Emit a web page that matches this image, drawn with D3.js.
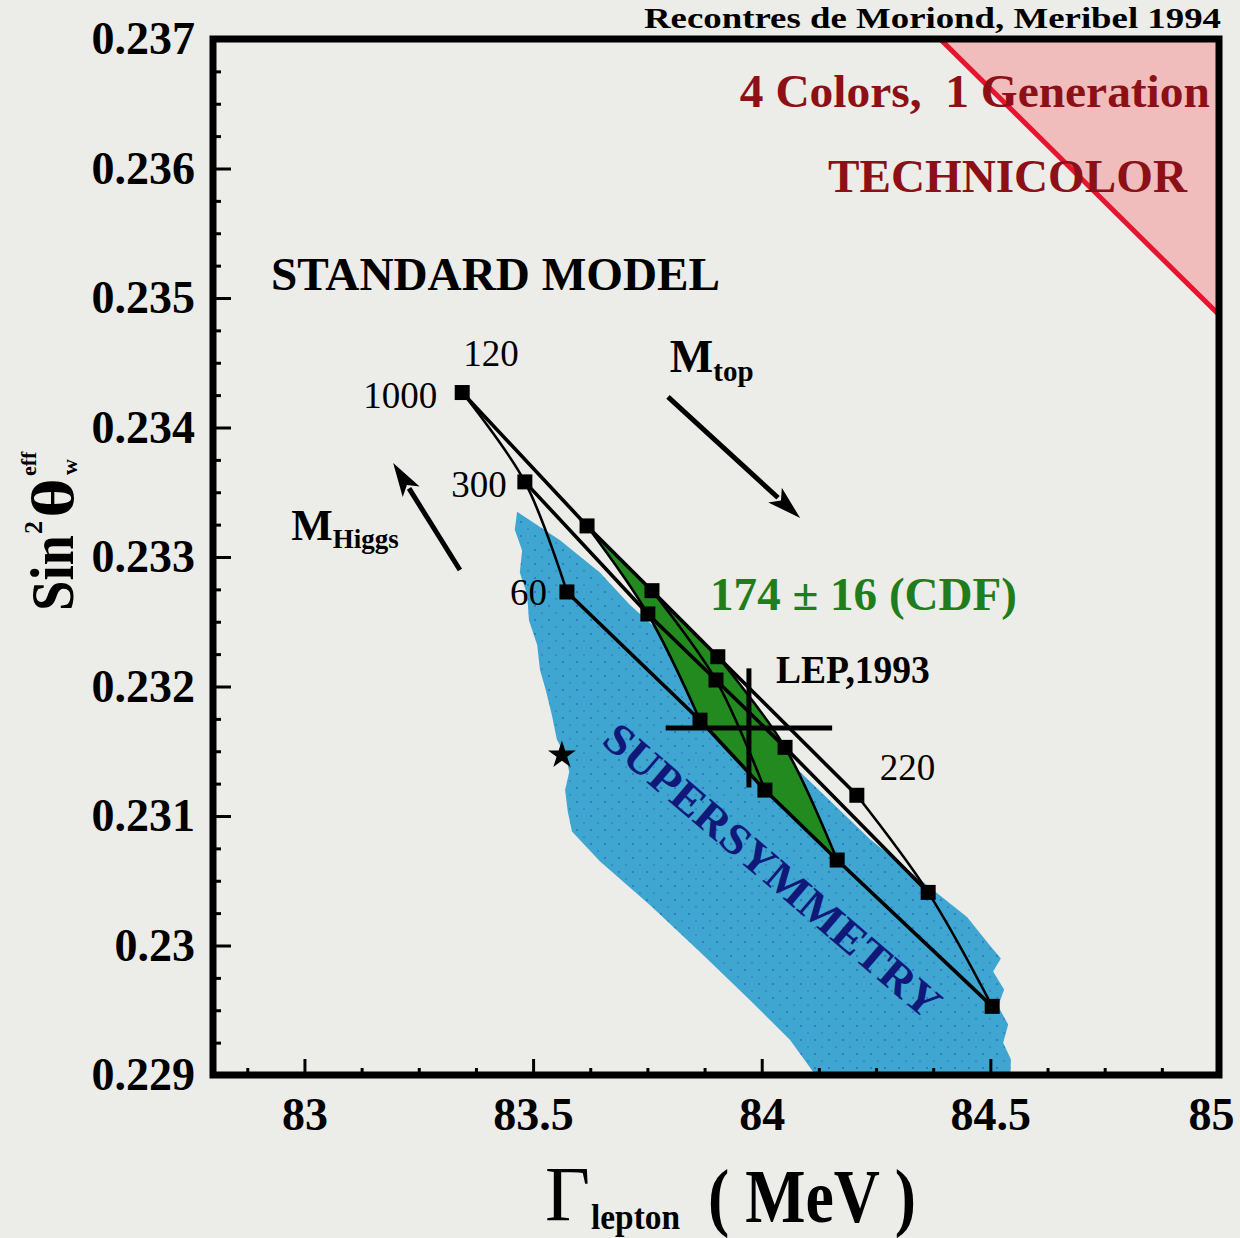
<!DOCTYPE html>
<html>
<head>
<meta charset="utf-8">
<script src="https://cdn.jsdelivr.net/npm/d3@7"></script>
<style>
  html, body { margin: 0; padding: 0; background: #ecece9; }
  svg { display: block; }
</style>
</head>
<body>
<svg id="chart" width="1240" height="1238"></svg>
<script>
// ---------------- data ----------------
// Standard Model grid: top mass (GeV) x Higgs mass (GeV)
const mtopValues   = [120, 158, 174, 190, 220];
const mhiggsValues = [60, 300, 1000];

// Γ_lepton (MeV) and sin²θ_eff along each fixed-Higgs-mass line, one entry per top mass
const gammaMH60   = [83.574, 83.865, 84.007, 84.165, 84.504];
const sin2MH60    = [0.23273, 0.23174, 0.23120, 0.23066, 0.22953];
const gammaMH300  = [83.482, 83.751, 83.900, 84.051, 84.364];
const sin2MH300   = [0.23358, 0.23256, 0.23205, 0.23153, 0.23041];
const gammaMH1000 = [83.345, 83.618, 83.760, 83.904, 84.208];
const sin2MH1000  = [0.23427, 0.23324, 0.23274, 0.23223, 0.23116];

// CDF top mass band, 174 ± 16 GeV
const cdfMtopRange = [158, 190];

// LEP 1993 measurement
const lepGamma = 83.972, lepGammaErr = 0.182;
const lepSin2  = 0.23168, lepSin2Err = 0.00046;

// single starred point
const starPoint = [83.563, 0.23147];

// supersymmetry band outline [Γ, sin²θ]
const susyOutline = [
  [83.465, 0.23335], [83.559, 0.23313], [83.646, 0.23288], [83.712, 0.23263],
  [83.778, 0.23242], [83.909, 0.23197], [84.084, 0.23134], [84.237, 0.23082],
  [84.346, 0.23051], [84.449, 0.23022], [84.499, 0.23000], [84.523, 0.22990],
  [84.506, 0.22980], [84.530, 0.22966], [84.517, 0.22953], [84.539, 0.22939],
  [84.528, 0.22925], [84.545, 0.22912], [84.543, 0.22890], [84.138, 0.22890],
  [84.062, 0.22927], [83.974, 0.22958], [83.865, 0.22995], [83.756, 0.23031],
  [83.646, 0.23065], [83.585, 0.23088], [83.576, 0.23103], [83.570, 0.23120],
  [83.579, 0.23134], [83.572, 0.23146], [83.552, 0.23159], [83.541, 0.23178],
  [83.528, 0.23197], [83.515, 0.23213], [83.509, 0.23232], [83.491, 0.23251],
  [83.487, 0.23271], [83.471, 0.23288], [83.476, 0.23305], [83.460, 0.23321]
];

// technicolor (4 colours, 1 generation) excluded corner
const technicolorOutline = [[84.39, 0.237], [85.0, 0.237], [85.0, 0.23487]];

// arrows showing the direction of increasing mass [from, to]
const mtopArrow   = [[83.795, 0.234236], [84.084, 0.233301]];
const mhiggsArrow = [[83.340, 0.232900], [83.194, 0.233726]];

// axes
const xDomain = [82.8, 85.0];
const yDomain = [0.229, 0.237];
const xTickValues = [83, 83.5, 84, 84.5, 85];
const xTickLabels = ["83", "83.5", "84", "84.5", "85"];
const yTickValues = [0.229, 0.230, 0.231, 0.232, 0.233, 0.234, 0.235, 0.236, 0.237];
const yTickLabels = ["0.229", "0.23", "0.231", "0.232", "0.233", "0.234", "0.235", "0.236", "0.237"];

// ---------------- drawing ----------------
const SERIF = "'Liberation Serif', 'Times New Roman', serif";
const svg = d3.select("#chart");
const plot = { left: 213, right: 1219, top: 39, bottom: 1075 };

const x = d3.scaleLinear().domain(xDomain).range([plot.left, plot.right]);
const y = d3.scaleLinear().domain(yDomain).range([plot.bottom, plot.top]);

svg.append("rect").attr("width", 1240).attr("height", 1238).attr("fill", "#ecece9");

const defs = svg.append("defs");
defs.append("clipPath").attr("id", "plotClip")
  .append("rect")
  .attr("x", plot.left).attr("y", plot.top)
  .attr("width", plot.right - plot.left).attr("height", plot.bottom - plot.top);

// speckle texture for the supersymmetry band
const pat = defs.append("pattern").attr("id", "susyTex")
  .attr("patternUnits", "userSpaceOnUse").attr("width", 14).attr("height", 14);
pat.append("rect").attr("width", 14).attr("height", 14).attr("fill", "#3fa6d1");
pat.append("rect").attr("x", 2).attr("y", 3).attr("width", 2).attr("height", 2).attr("fill", "#2f7cc4");
pat.append("rect").attr("x", 9).attr("y", 10).attr("width", 2).attr("height", 2).attr("fill", "#368bca");

const area = svg.append("g").attr("clip-path", "url(#plotClip)");
const toPx = d => [x(d[0]), y(d[1])];
const poly = d3.line().x(d => x(d[0])).y(d => y(d[1]));

// technicolor corner
area.append("path")
  .attr("d", poly(technicolorOutline) + "Z")
  .attr("fill", "#f0bcbc");
area.append("path")
  .attr("d", poly([technicolorOutline[0], technicolorOutline[2]]))
  .attr("stroke", "#e5142f").attr("stroke-width", 5).attr("fill", "none");

// supersymmetry band
area.append("path")
  .attr("d", poly(susyOutline) + "Z")
  .attr("fill", "url(#susyTex)");

// Standard Model grid
const mhSeries = [
  { mh: 60,   g: gammaMH60,   s: sin2MH60 },
  { mh: 300,  g: gammaMH300,  s: sin2MH300 },
  { mh: 1000, g: gammaMH1000, s: sin2MH1000 }
];
const mtopCurve = d3.line().x(d => x(d[0])).y(d => y(d[1])).curve(d3.curveCatmullRom.alpha(0.5));
const mtopPoints = i => mhSeries.map(h => [h.g[i], h.s[i]]);          // MH 60 -> 1000
const mhPoints = (h, i0, i1) => d3.range(i0, i1 + 1).map(i => [h.g[i], h.s[i]]);

// CDF band, bounded by the Mtop = 158 and 190 curves
const i0 = mtopValues.indexOf(cdfMtopRange[0]);
const i1 = mtopValues.indexOf(cdfMtopRange[1]);
const h60 = mhSeries[0], h1000 = mhSeries[2];
const band =
  poly(mhPoints(h1000, i0, i1)) +
  mtopCurve(mtopPoints(i1).slice().reverse()).replace(/^M/, "L") +
  poly(mhPoints(h60, i0, i1).reverse()).replace(/^M/, "L") +
  mtopCurve(mtopPoints(i0)).replace(/^M/, "L") + "Z";
area.append("path").attr("d", band).attr("fill", "#228a1f");

// constant top-mass curves
mtopValues.forEach((mt, i) => {
  area.append("path")
    .attr("d", mtopCurve(mtopPoints(i)))
    .attr("fill", "none").attr("stroke", "#000").attr("stroke-width", 2.6);
});
// constant Higgs-mass lines
mhSeries.forEach(h => {
  area.append("path")
    .attr("d", poly(mhPoints(h, 0, mtopValues.length - 1)))
    .attr("fill", "none").attr("stroke", "#000").attr("stroke-width", 3.6);
});
// grid nodes
const nodes = [];
mhSeries.forEach(h => mtopValues.forEach((mt, i) => nodes.push({ mt, mh: h.mh, g: h.g[i], s: h.s[i] })));
area.selectAll("rect.node").data(nodes).join("rect")
  .attr("class", "node")
  .attr("x", d => x(d.g) - 7.5).attr("y", d => y(d.s) - 7.5)
  .attr("width", 15).attr("height", 15).attr("fill", "#000");

// LEP 1993 cross
const lep = area.append("g").attr("stroke", "#000").attr("stroke-width", 5);
lep.append("line")
  .attr("x1", x(lepGamma - lepGammaErr)).attr("x2", x(lepGamma + lepGammaErr))
  .attr("y1", y(lepSin2)).attr("y2", y(lepSin2));
lep.append("line")
  .attr("x1", x(lepGamma)).attr("x2", x(lepGamma))
  .attr("y1", y(lepSin2 - lepSin2Err)).attr("y2", y(lepSin2 + lepSin2Err));

// star
area.append("path")
  .attr("transform", `translate(${x(starPoint[0])},${y(starPoint[1])})`)
  .attr("d", d3.symbol().type(d3.symbolStar).size(240)())
  .attr("fill", "#000");

// arrows
function arrow(pair) {
  const [p0, p1] = pair.map(toPx);
  const dx = p1[0] - p0[0], dy = p1[1] - p0[1];
  const len = Math.hypot(dx, dy), ux = dx / len, uy = dy / len;
  const headL = 34, headW = 10;
  const bx = p1[0] - ux * headL, by = p1[1] - uy * headL;
  area.append("line")
    .attr("x1", p0[0]).attr("y1", p0[1]).attr("x2", bx + ux * 4).attr("y2", by + uy * 4)
    .attr("stroke", "#000").attr("stroke-width", 5);
  area.append("path")
    .attr("d", `M${p1[0]},${p1[1]}L${bx - uy * headW},${by + ux * headW}L${bx + ux * 8},${by + uy * 8}L${bx + uy * headW},${by - ux * headW}Z`)
    .attr("fill", "#000");
}
arrow(mtopArrow);
arrow(mhiggsArrow);

// ---------------- labels ----------------
function label(g, s, txt, opts = {}) {
  const t = svg.append("text")
    .attr("x", x(g) + (opts.dx || 0)).attr("y", y(s) + (opts.dy || 0))
    .attr("font-family", SERIF)
    .attr("font-size", opts.size || 38)
    .attr("font-weight", opts.weight || "normal")
    .attr("fill", opts.color || "#000")
    .attr("text-anchor", opts.anchor || "start")
    .style("white-space", "pre")
    .text(txt);
  if (opts.len) t.attr("textLength", opts.len).attr("lengthAdjust", "spacingAndGlyphs");
  return t;
}

// grid-node labels
const node = (mt, mh) => nodes.find(n => n.mt === mt && n.mh === mh);
let n;
n = node(120, 1000); label(n.g, n.s, "120",  { dx: 1,  dy: -27, size: 37 });
n = node(120, 1000); label(n.g, n.s, "1000", { dx: -25, dy: 15, size: 37, anchor: "end" });
n = node(120, 300);  label(n.g, n.s, "300",  { dx: -18, dy: 15, size: 37, anchor: "end" });
n = node(120, 60);   label(n.g, n.s, "60",   { dx: -20, dy: 13, size: 37, anchor: "end" });
n = node(220, 1000); label(n.g, n.s, "220",  { dx: 23,  dy: -15, size: 37 });

label(82.927, 0.235062, "STANDARD MODEL", { size: 47, weight: "bold", len: 449 });
label(84.980, 0.236475, "4 Colors,  1 Generation", { size: 47, weight: "bold", color: "#8c1016", anchor: "end", len: 470 });
label(84.930, 0.235819, "TECHNICOLOR", { size: 47, weight: "bold", color: "#8c1016", anchor: "end", len: 359 });
label(83.887, 0.232591, "174 ± 16 (CDF)", { size: 46, weight: "bold", color: "#1f7d1c", len: 307 });
label(84.031, 0.232027, "LEP,1993", { size: 40, weight: "bold", len: 154 });

// M_top
const mt = label(83.799, 0.234429, "M", { size: 46, weight: "bold" });
mt.append("tspan").attr("font-size", 29).attr("dy", 9).text("top");
// M_Higgs
const mh = label(82.971, 0.233131, "M", { size: 44, weight: "bold" });
mh.append("tspan").attr("font-size", 27).attr("dy", 8).text("Higgs");

// rotated supersymmetry label
svg.append("text")
  .attr("transform", `translate(${x(84.0247)},${y(0.230583)}) rotate(40.5)`)
  .attr("font-family", SERIF).attr("font-size", 44).attr("font-weight", "bold")
  .attr("fill", "#10197a").attr("text-anchor", "middle").attr("dy", "0.35em")
  .attr("textLength", 428).attr("lengthAdjust", "spacingAndGlyphs")
  .text("SUPERSYMMETRY");

// conference tag
svg.append("text")
  .attr("x", 1221).attr("y", 28).attr("text-anchor", "end")
  .attr("font-family", SERIF).attr("font-size", 29).attr("font-weight", "bold")
  .attr("textLength", 577).attr("lengthAdjust", "spacingAndGlyphs")
  .text("Recontres de Moriond, Meribel 1994");

// ---------------- axes ----------------
const yMinor = d3.range(0.22925, 0.237, 0.00025).filter(v => Math.abs(v * 1000 - Math.round(v * 1000)) > 1e-6);
const xMinor = d3.range(82.875, 85, 0.125).filter(v => Math.abs(v * 2 - Math.round(v * 2)) > 1e-6);

function styleAxis(g) {
  g.select(".domain").remove();
  g.selectAll("line").attr("stroke", "#000").attr("stroke-width", 3);
}

svg.append("g").attr("transform", `translate(${plot.left},0)`)
  .call(d3.axisLeft(y).tickValues(yMinor).tickFormat("").tickSizeInner(-8).tickSizeOuter(0))
  .call(styleAxis);
svg.append("g").attr("transform", `translate(0,${plot.bottom})`)
  .call(d3.axisBottom(x).tickValues(xMinor).tickFormat("").tickSizeInner(-7).tickSizeOuter(0))
  .call(styleAxis);

const gy = svg.append("g").attr("transform", `translate(${plot.left},0)`)
  .call(d3.axisLeft(y).tickValues(yTickValues).tickFormat((d, i) => yTickLabels[i])
    .tickSizeInner(-18).tickSizeOuter(0).tickPadding(18))
  .call(styleAxis);
gy.attr("font-family", SERIF).attr("font-size", 46).attr("font-weight", "bold");
gy.selectAll("text").attr("fill", "#000");

const gx = svg.append("g").attr("transform", `translate(0,${plot.bottom})`)
  .call(d3.axisBottom(x).tickValues(xTickValues).tickFormat((d, i) => xTickLabels[i])
    .tickSizeInner(-16).tickSizeOuter(0).tickPadding(22))
  .call(styleAxis);
gx.attr("font-family", SERIF).attr("font-size", 46).attr("font-weight", "bold");
gx.selectAll("text").attr("fill", "#000");
// keep the last label inside the page edge
gx.selectAll(".tick").filter(d => d === xDomain[1]).select("text").attr("dx", -8);

// frame
svg.append("rect")
  .attr("x", plot.left).attr("y", plot.top)
  .attr("width", plot.right - plot.left).attr("height", plot.bottom - plot.top)
  .attr("fill", "none").attr("stroke", "#000").attr("stroke-width", 7);

// ---------------- axis titles ----------------
// x: Γ_lepton ( MeV )
svg.append("text").attr("x", 545).attr("y", 1220)
  .attr("font-family", SERIF).attr("font-size", 78).text("Γ");
svg.append("text").attr("x", 591).attr("y", 1229)
  .attr("font-family", SERIF).attr("font-size", 36).attr("font-weight", "bold")
  .attr("textLength", 89).attr("lengthAdjust", "spacingAndGlyphs").text("lepton");
svg.append("text").attr("x", 708).attr("y", 1222)
  .attr("font-family", SERIF).attr("font-size", 76).attr("font-weight", "bold")
  .style("white-space", "pre")
  .attr("textLength", 208).attr("lengthAdjust", "spacingAndGlyphs").text("( MeV )");

// y: Sin²θ_w^eff, reading upwards
const yt = svg.append("g").attr("transform", "translate(73,611) rotate(-90)")
  .attr("font-family", SERIF).attr("font-weight", "bold").attr("fill", "#000");
yt.append("text").attr("x", 0).attr("y", 0).attr("font-size", 62)
  .attr("textLength", 76).attr("lengthAdjust", "spacingAndGlyphs").text("Sin");
yt.append("text").attr("x", 77).attr("y", -31).attr("font-size", 26).text("2");
yt.append("text").attr("x", 93).attr("y", 0).attr("font-size", 60)
  .attr("textLength", 40).attr("lengthAdjust", "spacingAndGlyphs").text("θ");
yt.append("text").attr("x", 136).attr("y", 4).attr("font-size", 22).text("w");
yt.append("text").attr("x", 135).attr("y", -37).attr("font-size", 22).text("eff");
</script>
</body>
</html>
